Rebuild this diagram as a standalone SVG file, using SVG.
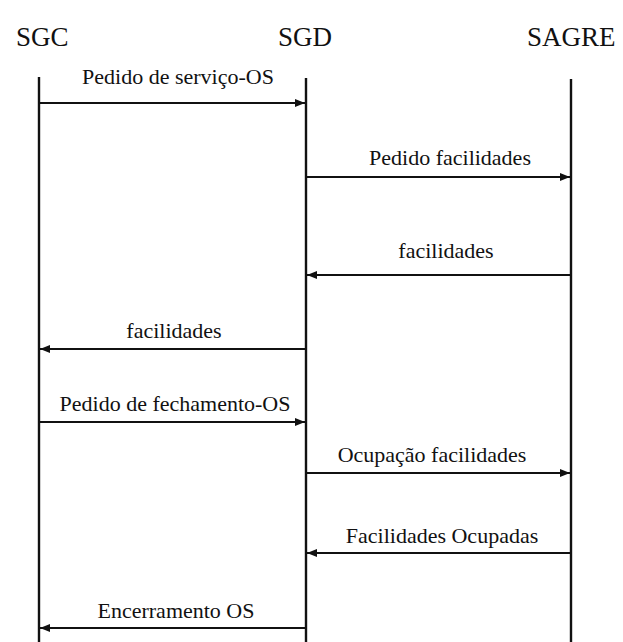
<svg xmlns="http://www.w3.org/2000/svg" width="623" height="642" viewBox="0 0 623 642">
<style>
.hdr{font-family:'Liberation Serif','Times New Roman','DejaVu Serif',serif;font-size:27px;fill:#111}
.lbl{font-family:'Liberation Serif','Times New Roman','DejaVu Serif',serif;font-size:22px;fill:#111;text-anchor:middle}
.life{stroke:#111;stroke-width:2.4;fill:none}
.msg{stroke:#111;stroke-width:1.8;fill:none}
</style>
<defs>
<marker id="ah" viewBox="0 0 10 8" refX="10" refY="4" markerWidth="10" markerHeight="8" markerUnits="userSpaceOnUse" orient="auto">
<path d="M0,0 L10,4 L0,8 Z" fill="#111"/>
</marker>
</defs>
<rect width="623" height="642" fill="#fff"/>
<g id="node-SGC">
<text class="hdr" x="16" y="46">SGC</text>
<line class="life" x1="39" y1="77" x2="39" y2="642"/>
</g>
<g id="node-SGD">
<text class="hdr" x="278" y="46">SGD</text>
<line class="life" x1="306" y1="78" x2="306" y2="642"/>
</g>
<g id="node-SAGRE">
<text class="hdr" x="527" y="46">SAGRE</text>
<line class="life" x1="571" y1="79" x2="571" y2="642"/>
</g>
<g id="connectors">
<line class="msg" x1="40" y1="103" x2="305" y2="103" marker-end="url(#ah)"/>
<text class="lbl" x="178" y="84">Pedido de serviço-OS</text>
<line class="msg" x1="307" y1="177" x2="570" y2="177" marker-end="url(#ah)"/>
<text class="lbl" x="450" y="165">Pedido facilidades</text>
<line class="msg" x1="570" y1="275" x2="307" y2="275" marker-end="url(#ah)"/>
<text class="lbl" x="446" y="258">facilidades</text>
<line class="msg" x1="305" y1="349" x2="40" y2="349" marker-end="url(#ah)"/>
<text class="lbl" x="174" y="338">facilidades</text>
<line class="msg" x1="40" y1="422" x2="305" y2="422" marker-end="url(#ah)"/>
<text class="lbl" x="175" y="411">Pedido de fechamento-OS</text>
<line class="msg" x1="307" y1="473" x2="570" y2="473" marker-end="url(#ah)"/>
<text class="lbl" x="432" y="462">Ocupação facilidades</text>
<line class="msg" x1="570" y1="553" x2="307" y2="553" marker-end="url(#ah)"/>
<text class="lbl" x="442" y="543">Facilidades Ocupadas</text>
<line class="msg" x1="305" y1="628" x2="40" y2="628" marker-end="url(#ah)"/>
<text class="lbl" x="176" y="618">Encerramento OS</text>
</g>
</svg>
